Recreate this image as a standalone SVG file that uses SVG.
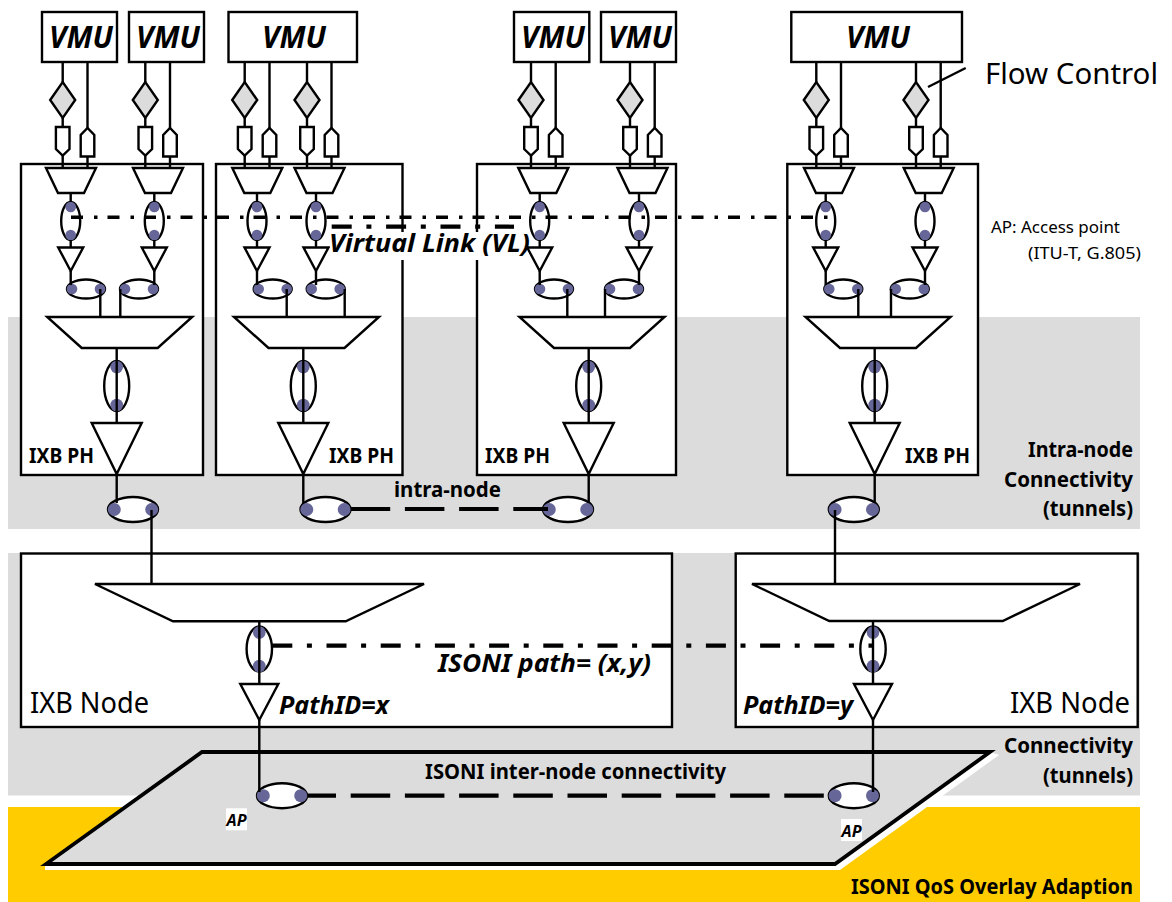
<svg xmlns="http://www.w3.org/2000/svg" width="1172" height="902" viewBox="0 0 1172 902">
<style>
text{font-family:"Noto Sans","Open Sans","DejaVu Sans",sans-serif;fill:#000}
.b{font-weight:700}
.i{font-weight:700;font-style:italic}
.s{fill:#fff;stroke:#000;stroke-width:2.400}
.g{fill:#dcdcdc;stroke:#000;stroke-width:2.400}
.d{fill:#666699;stroke:none}
.c{fill:none;stroke:#000;stroke-width:2.400}
.dash{fill:none;stroke:#000;stroke-width:4.200}
.vl{fill:none;stroke:#000;stroke-width:3.400}
.vmu{font-size:30px}
.ph{font-size:21px}
.lab{font-size:20.500px}
</style>
<defs>
<polygon id="dia" class="g" points="-12.5,100 0,82 12.5,100 0,118"/>
<polygon id="pd" class="s" points="-6.8,127 6.8,127 6.8,149 0,155.500 -6.8,149"/>
<polygon id="pu" class="s" points="-6.8,156.500 6.8,156.500 6.8,135 0,128 -6.8,135"/>
<polygon id="mux" class="s" points="-25,168 25,168 13,193 -13,193"/>
<g id="ev"><ellipse class="s" cy="221" rx="9.500" ry="19"/><circle class="d" cy="207" r="5.300"/><circle class="d" cy="235" r="5.300"/></g>
<polygon id="tr" class="s" points="-12.5,247.500 12.5,247.500 0,271"/>
<g id="eh"><ellipse class="s" cy="289" rx="19" ry="9.500"/><circle class="d" cx="-14" cy="289" r="5.300"/><circle class="d" cx="14" cy="289" r="5.300"/></g>
<polygon id="muxb" class="s" points="-72.5,317 72.5,317 38,348 -38,348"/>
<g id="evb"><ellipse class="s" cy="386" rx="12.500" ry="25"/><circle class="d" cy="367" r="6.300"/><circle class="d" cy="405" r="6.300"/></g>
<polygon id="trb" class="s" points="-25,423 25,423 0,474"/>
<g id="et"><ellipse class="s" cy="509.500" rx="25" ry="12.500"/><circle class="d" cx="-18.7" cy="509.500" r="6.500"/><circle class="d" cx="18.7" cy="509.500" r="6.500"/></g>
<g id="ea"><ellipse class="s" cy="795.700" rx="25" ry="12.500"/><circle class="d" cx="-18.7" cy="795.700" r="6.500"/><circle class="d" cx="18.7" cy="795.700" r="6.500"/></g>
<g id="en"><ellipse class="s" cy="649" rx="12.700" ry="22.500"/><circle class="d" cy="632.500" r="6.300"/><circle class="d" cy="666" r="6.300"/></g>
<polygon id="trn" class="s" points="-19,684 19,684 0,720"/>
</defs>

<g id="bands">
<rect x="8" y="317" width="1132" height="212" fill="#dcdcdc"/>
<rect x="8" y="553" width="1132" height="242.500" fill="#dcdcdc"/>
<rect x="8" y="807" width="1132" height="95" fill="#ffcc00"/>
</g>

<g id="overlay-plane">
<polygon points="45,864 45,870 840,870 999,755 990,752" fill="#fff"/>
<polygon points="202,752 990,752 835,864 46,864" fill="#dcdcdc" stroke="#000" stroke-width="3.800"/>
</g>

<g id="node-ph-1">
<rect class="s" x="21" y="164" width="182" height="311"/>
<use href="#mux" x="71"/><use href="#ev" x="70.700"/><use href="#tr" x="70.700"/><use href="#eh" x="86"/>
<use href="#mux" x="158"/><use href="#ev" x="154.300"/><use href="#tr" x="154.300"/><use href="#eh" x="139"/>
<use href="#muxb" x="119.700"/><use href="#evb" x="116.700"/><use href="#trb" x="116.700"/><use href="#et" x="133"/>
<text class="b ph" x="29" y="463" textLength="65" lengthAdjust="spacingAndGlyphs">IXB PH</text>
</g>
<g id="node-ph-2">
<rect class="s" x="216" y="164" width="186.500" height="311"/>
<use href="#mux" x="257.300"/><use href="#ev" x="257"/><use href="#tr" x="257"/><use href="#eh" x="272.700"/>
<use href="#mux" x="319.500"/><use href="#ev" x="316"/><use href="#tr" x="316"/><use href="#eh" x="325.700"/>
<use href="#muxb" x="306.500"/><use href="#evb" x="303.300"/><use href="#trb" x="303.300"/><use href="#et" x="325.500"/>
<text class="b ph" x="329" y="463" textLength="65" lengthAdjust="spacingAndGlyphs">IXB PH</text>
</g>
<g id="node-ph-3">
<rect class="s" x="477" y="164" width="199" height="311"/>
<use href="#mux" x="543.300"/><use href="#ev" x="539.700"/><use href="#tr" x="539.700"/><use href="#eh" x="554"/>
<use href="#mux" x="642.500"/><use href="#ev" x="639"/><use href="#tr" x="639"/><use href="#eh" x="624"/>
<use href="#muxb" x="592"/><use href="#evb" x="588.700"/><use href="#trb" x="588.700"/><use href="#et" x="568"/>
<text class="b ph" x="485" y="463" textLength="65" lengthAdjust="spacingAndGlyphs">IXB PH</text>
</g>
<g id="node-ph-4">
<rect class="s" x="787.300" y="164" width="190.700" height="311"/>
<use href="#mux" x="829"/><use href="#ev" x="825.700"/><use href="#tr" x="825.700"/><use href="#eh" x="843.300"/>
<use href="#mux" x="928.700"/><use href="#ev" x="925"/><use href="#tr" x="925"/><use href="#eh" x="909.800"/>
<use href="#muxb" x="878"/><use href="#evb" x="874.700"/><use href="#trb" x="874.700"/><use href="#et" x="853.800"/>
<text class="b ph" x="905" y="463" textLength="65" lengthAdjust="spacingAndGlyphs">IXB PH</text>
</g>

<g id="vmu-1"><rect class="s" x="42" y="12" width="75" height="50"/><text class="i vmu" x="49" y="48" textLength="64" lengthAdjust="spacingAndGlyphs">VMU</text>
<use href="#dia" x="62.700"/><use href="#pd" x="62.700"/><use href="#pu" x="87.500"/></g>
<g id="vmu-2"><rect class="s" x="129" y="12" width="75" height="50"/><text class="i vmu" x="136" y="48" textLength="64" lengthAdjust="spacingAndGlyphs">VMU</text>
<use href="#dia" x="145.300"/><use href="#pd" x="145.300"/><use href="#pu" x="170"/></g>
<g id="vmu-3"><rect class="s" x="228.500" y="12" width="128.500" height="50"/><text class="i vmu" x="262" y="48" textLength="64" lengthAdjust="spacingAndGlyphs">VMU</text>
<use href="#dia" x="244.700"/><use href="#pd" x="244.700"/><use href="#pu" x="269.500"/>
<use href="#dia" x="307"/><use href="#pd" x="307"/><use href="#pu" x="331.500"/></g>
<g id="vmu-4"><rect class="s" x="514" y="12" width="75.300" height="50"/><text class="i vmu" x="521" y="48" textLength="64" lengthAdjust="spacingAndGlyphs">VMU</text>
<use href="#dia" x="531"/><use href="#pd" x="531"/><use href="#pu" x="555.700"/></g>
<g id="vmu-5"><rect class="s" x="601" y="12" width="75" height="50"/><text class="i vmu" x="608" y="48" textLength="64" lengthAdjust="spacingAndGlyphs">VMU</text>
<use href="#dia" x="630"/><use href="#pd" x="630"/><use href="#pu" x="654.700"/></g>
<g id="vmu-6"><rect class="s" x="791.300" y="12" width="170.700" height="50"/><text class="i vmu" x="846" y="48" textLength="64" lengthAdjust="spacingAndGlyphs">VMU</text>
<use href="#dia" x="816.300"/><use href="#pd" x="816.300"/><use href="#pu" x="841"/>
<use href="#dia" x="916"/><use href="#pd" x="916"/><use href="#pu" x="940.700"/></g>

<g id="node-ixb-1">
<rect class="s" x="21" y="553.500" width="651" height="173.500"/>
<polygon class="s" points="95,584 424,584 345.700,621.300 173,621.300"/>
<use href="#en" x="259.300"/><use href="#trn" x="259.300"/>
<text x="30" y="713" font-size="29.500" textLength="119" lengthAdjust="spacingAndGlyphs">IXB Node</text>
</g>
<g id="node-ixb-2">
<rect class="s" x="735.700" y="553.500" width="402" height="173.500"/>
<polygon class="s" points="752,584 1080,584 1002.700,621 829.300,621"/>
<use href="#en" x="873"/><use href="#trn" x="873"/>
<text x="1010" y="713" font-size="29.500" textLength="120" lengthAdjust="spacingAndGlyphs">IXB Node</text>
</g>

<g id="access-points">
<use href="#ea" x="282"/><use href="#ea" x="853.800"/>
<rect x="226" y="808.300" width="21" height="22" fill="#fff"/>
<text class="i" x="226.500" y="826" font-size="16" textLength="20" lengthAdjust="spacingAndGlyphs">AP</text>
<rect x="841" y="819" width="21" height="22" fill="#fff"/>
<text class="i" x="841.500" y="837" font-size="16" textLength="20" lengthAdjust="spacingAndGlyphs">AP</text>
</g>

<g id="connectors">
<path class="c" d="M62.700 62V82M62.700 118V127M62.700 155V168M87.500 62V128M87.500 156V168M145.300 62V82M145.300 118V127M145.300 155V168M170 62V128M170 156V168
M244.700 62V82M244.700 118V127M244.700 155V168M269.500 62V128M269.500 156V168M307 62V82M307 118V127M307 155V168M331.500 62V128M331.500 156V168
M531 62V82M531 118V127M531 155V168M555.700 62V128M555.700 156V168M630 62V82M630 118V127M630 155V168M654.700 62V128M654.700 156V168
M816.300 62V82M816.300 118V127M816.300 155V168M841 62V128M841 156V168M916 62V82M916 118V127M916 155V168M940.700 62V128M940.700 156V168"/>
<path class="c" d="M70.700 193V202M70.700 240V247M70.700 271V285M154.300 193V202M154.300 240V247M154.300 271V285M100.300 289V317M120.300 289V317
M257 193V202M257 240V247M257 271V285M316 193V202M316 240V247M316 271V285M286.700 289V317M344.700 289V317
M539.700 193V202M539.700 240V247M539.700 271V285M639 193V202M639 240V247M639 271V285M567.300 289V317M605 289V317
M825.700 193V202M825.700 240V247M825.700 271V285M925 193V202M925 240V247M925 271V285M858.300 289V317M891 289V317"/>
<path class="c" d="M116.700 348V423M116.700 474V503M303.300 348V423M303.300 474V503M588.700 348V423M588.700 474V503M874.700 348V423M874.700 474V503"/>
<path class="c" d="M151.500 510V584M835 510V584M259.300 621V684M259.300 720V792M873 621V684M873 720V792"/>
<path class="c" d="M928 87L965.700 68"/>
<path class="dash" d="M350.700 509H548" stroke-dasharray="39.500 14.700"/>
<path class="dash" d="M308 795.700H826" stroke-dasharray="39.500 14.700" stroke-dashoffset="11.500"/>
<path class="dash" d="M272.300 645.700H873" stroke-dasharray="20 14.600 5 14.600"/>
<path class="vl" d="M71 217.300H830" stroke-dasharray="12 11 3.500 10"/>
</g>

<g id="labels">
<rect x="330" y="232" width="196" height="28" fill="#fff"/>
<path class="dash" d="M331.700 226.700H514" stroke-dasharray="20 14.700 5 14.700"/>
<text class="i" x="329" y="252" font-size="25" textLength="201" lengthAdjust="spacingAndGlyphs">Virtual Link (VL)</text>
<text x="985" y="84" font-size="29" textLength="173" lengthAdjust="spacingAndGlyphs">Flow Control</text>
<text x="991" y="233" font-size="15.500" textLength="129" lengthAdjust="spacingAndGlyphs">AP: Access point</text>
<text x="1028" y="259" font-size="15.500" textLength="113" lengthAdjust="spacingAndGlyphs">(ITU-T, G.805)</text>
<text class="b lab" x="394" y="497" textLength="107" lengthAdjust="spacingAndGlyphs">intra-node</text>
<text class="b lab" x="1028" y="457" textLength="105" lengthAdjust="spacingAndGlyphs">Intra-node</text>
<text class="b lab" x="1004" y="487" textLength="129" lengthAdjust="spacingAndGlyphs">Connectivity</text>
<text class="b lab" x="1043" y="516" textLength="90" lengthAdjust="spacingAndGlyphs">(tunnels)</text>
<text class="i" x="438" y="672" font-size="25" textLength="213" lengthAdjust="spacingAndGlyphs">ISONI path= (x,y)</text>
<text class="i" x="279" y="714" font-size="24.500" textLength="110" lengthAdjust="spacingAndGlyphs">PathID=x</text>
<text class="i" x="743" y="714" font-size="24.500" textLength="110" lengthAdjust="spacingAndGlyphs">PathID=y</text>
<text class="b lab" x="425" y="779" textLength="301" lengthAdjust="spacingAndGlyphs">ISONI inter-node connectivity</text>
<text class="b lab" x="1004" y="753" textLength="129" lengthAdjust="spacingAndGlyphs">Connectivity</text>
<text class="b lab" x="1043" y="783" textLength="90" lengthAdjust="spacingAndGlyphs">(tunnels)</text>
<text class="b lab" x="851" y="894" textLength="282" lengthAdjust="spacingAndGlyphs">ISONI QoS Overlay Adaption</text>
</g>
</svg>
